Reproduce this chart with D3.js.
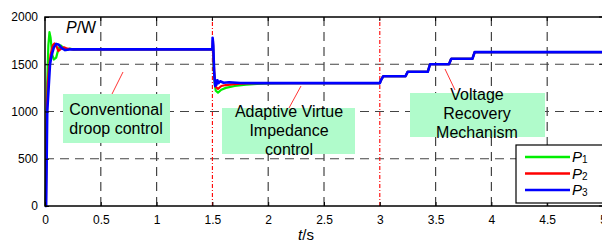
<!DOCTYPE html>
<html>
<head>
<meta charset="utf-8">
<style>
  body { margin: 0; background: #fff; }
  svg { display: block; font-family: "Liberation Sans", Arial, sans-serif; }
</style>
</head>
<body>
<svg width="602" height="243"></svg>
<script src="https://d3js.org/d3.v7.min.js"></script>
<script>
// t (s), P (W)
var p1 = [[0,0],[0.006,0],[0.012,600],[0.02,1300],[0.03,1700],[0.04,1840],[0.05,1780],[0.065,1600],[0.08,1550],[0.1,1570],
  [0.12,1660],[0.14,1700],[0.16,1680],[0.19,1650],[0.22,1665],[0.26,1655],[0.3,1657],[1.5,1657],[1.505,1700],[1.51,1500],
  [1.52,1300],[1.53,1220],[1.55,1200],[1.58,1230],[1.62,1250],[1.7,1270],[1.8,1285],[1.9,1293],[2.0,1298],[2.2,1300],
  [3.0,1300],[3.01,1330],[3.03,1373],[3.23,1373],[3.25,1420],[3.43,1420],[3.45,1500],[3.62,1500],[3.64,1558],[3.83,1558],
  [3.85,1628],[5,1628]];
var p2 = [[0,0],[0.008,0],[0.015,900],[0.025,1300],[0.035,1450],[0.05,1600],[0.07,1700],[0.085,1720],[0.1,1700],[0.12,1640],
  [0.14,1660],[0.17,1680],[0.2,1665],[0.25,1657],[1.5,1657],[1.505,1750],[1.51,1550],[1.52,1350],[1.53,1260],[1.55,1240],
  [1.58,1270],[1.62,1280],[1.7,1290],[1.8,1297],[1.9,1300],[3.0,1300],[3.01,1330],[3.03,1373],[3.23,1373],[3.25,1420],
  [3.43,1420],[3.45,1500],[3.62,1500],[3.64,1558],[3.83,1558],[3.85,1628],[5,1628]];
var p3 = [[0,0],[0.01,0],[0.015,500],[0.02,1000],[0.03,1200],[0.045,1500],[0.06,1600],[0.08,1680],[0.1,1715],[0.12,1710],
  [0.15,1670],[0.18,1650],[0.22,1657],[1.5,1657],[1.502,1780],[1.508,1700],[1.512,1550],[1.516,1420],[1.52,1350],[1.525,1270],
  [1.53,1330],[1.535,1280],[1.545,1330],[1.555,1300],[1.57,1320],[1.6,1305],[1.65,1310],[1.75,1302],[1.9,1300],[3.0,1300],
  [3.01,1330],[3.03,1373],[3.23,1373],[3.25,1420],[3.43,1420],[3.45,1500],[3.62,1500],[3.64,1558],[3.83,1558],[3.85,1628],[5,1628]];

var xTicks = [0, 0.5, 1, 1.5, 2, 2.5, 3, 3.5, 4, 4.5, 5];
var yTicks = [0, 500, 1000, 1500, 2000];
var stageLines = [1.5, 3];
var seriesNames = ["P1", "P2", "P3"];
var seriesColors = ["#00ee00", "#ff0000", "#0000ff"];

var svg = d3.select("svg");

var x = d3.scaleLinear().domain([0, 5]).range([45, 603]);
var y = d3.scaleLinear().domain([0, 2000]).range([206, 17]);

// grid
svg.append("g").selectAll("line")
  .data(xTicks.filter(function(d) { return d > 0 && d < 5 && stageLines.indexOf(d) < 0; }))
  .enter().append("line")
    .attr("x1", function(d) { return x(d); }).attr("x2", function(d) { return x(d); })
    .attr("y1", y(0)).attr("y2", y(2000))
    .attr("stroke", "#444").attr("stroke-width", 1.2).attr("stroke-dasharray", "9,6");
svg.append("g").selectAll("line")
  .data(yTicks.filter(function(d) { return d > 0 && d < 2000; }))
  .enter().append("line")
    .attr("x1", x(0)).attr("x2", x(5))
    .attr("y1", function(d) { return y(d); }).attr("y2", function(d) { return y(d); })
    .attr("stroke", "#444").attr("stroke-width", 1.2).attr("stroke-dasharray", "9,6");

// red dash-dot stage lines
svg.append("g").selectAll("line")
  .data(stageLines)
  .enter().append("line")
    .attr("x1", function(d) { return x(d); }).attr("x2", function(d) { return x(d); })
    .attr("y1", y(0)).attr("y2", y(2000))
    .attr("stroke", "#ff0000").attr("stroke-width", 1.1).attr("stroke-dasharray", "4,2,1,2");

// annotation boxes
var boxes = [
  {x0: 63, y0: 94, x1: 170, y1: 143, cx: 116, lines: ["Conventional", "droop control"], base: 115},
  {x0: 222, y0: 108, x1: 355, y1: 154, cx: 289, lines: ["Adaptive Virtue", "Impedance", "control"], base: 117},
  {x0: 410, y0: 93, x1: 545, y1: 137, cx: 477, lines: ["Voltage", "Recovery", "Mechanism"], base: 100}
];
boxes.forEach(function(b) {
  svg.append("rect").attr("x", b.x0).attr("y", b.y0)
    .attr("width", b.x1 - b.x0).attr("height", b.y1 - b.y0)
    .attr("fill", "#b0fbcb");
});

// curves
var line = d3.line().x(function(d) { return x(d[0]); }).y(function(d) { return y(d[1]); });
[p1, p2, p3].forEach(function(s, i) {
  svg.append("path").datum(s)
    .attr("fill", "none")
    .attr("stroke", seriesColors[i])
    .attr("stroke-width", i == 2 ? 2.6 : 2.2)
    .attr("stroke-linejoin", "round")
    .attr("d", line);
});

// leader lines
var leaders = [[112, 94, 123, 72], [289, 108, 301, 86], [445, 69, 455, 90]];
svg.append("g").selectAll("line").data(leaders).enter().append("line")
  .attr("x1", function(d) { return d[0]; }).attr("y1", function(d) { return d[1]; })
  .attr("x2", function(d) { return d[2]; }).attr("y2", function(d) { return d[3]; })
  .attr("stroke", "#ff0000").attr("stroke-width", 0.8);

// box texts
boxes.forEach(function(b) {
  b.lines.forEach(function(t, k) {
    svg.append("text").attr("x", b.cx).attr("y", b.base + k * 19)
      .attr("text-anchor", "middle").attr("font-size", 16).attr("fill", "#000")
      .text(t);
  });
});

// axes box
svg.append("rect").attr("x", x(0)).attr("y", y(2000))
  .attr("width", x(5) - x(0)).attr("height", y(0) - y(2000))
  .attr("fill", "none").attr("stroke", "#000").attr("stroke-width", 1.5);

var xAxis = d3.axisBottom(x).tickValues(xTicks).tickSizeInner(-4).tickSizeOuter(0).tickPadding(9)
  .tickFormat(function(d) { return d; });
var gx = svg.append("g").attr("transform", "translate(0," + y(0) + ")").call(xAxis);
var yAxis = d3.axisLeft(y).tickValues(yTicks).tickSizeInner(-4).tickSizeOuter(0).tickPadding(7)
  .tickFormat(function(d) { return d; });
var gy = svg.append("g").attr("transform", "translate(" + x(0) + ",0)").call(yAxis);
[gx, gy].forEach(function(g) {
  g.select(".domain").remove();
  g.selectAll("line").attr("stroke", "#000");
  g.selectAll("text").attr("font-size", 12).attr("fill", "#000")
    .attr("font-family", "'Liberation Sans', Arial, sans-serif");
});
// mirrored ticks top / right
svg.append("g").selectAll("line").data(xTicks).enter().append("line")
  .attr("x1", function(d) { return x(d); }).attr("x2", function(d) { return x(d); })
  .attr("y1", y(2000)).attr("y2", y(2000) + 4).attr("stroke", "#000");
svg.append("g").selectAll("line").data(yTicks).enter().append("line")
  .attr("x1", x(5)).attr("x2", x(5) - 4)
  .attr("y1", function(d) { return y(d); }).attr("y2", function(d) { return y(d); }).attr("stroke", "#000");

// axis titles
var pw = svg.append("text").attr("x", 66).attr("y", 33).attr("font-size", 16);
pw.append("tspan").attr("font-style", "italic").text("P");
pw.append("tspan").text("/W");
var ts = svg.append("text").attr("x", 306).attr("y", 240).attr("font-size", 15).attr("text-anchor", "middle");
ts.append("tspan").attr("font-style", "italic").text("t");
ts.append("tspan").text("/s");

// legend
var lg = svg.append("g");
lg.append("rect").attr("x", 516).attr("y", 145).attr("width", 88).attr("height", 58)
  .attr("fill", "#fff").attr("stroke", "#000").attr("stroke-width", 1.2);
seriesNames.forEach(function(n, i) {
  var ly = 157 + i * 16.5;
  lg.append("line").attr("x1", 525).attr("x2", 570).attr("y1", ly).attr("y2", ly)
    .attr("stroke", seriesColors[i]).attr("stroke-width", 2.4);
  var t = lg.append("text").attr("x", 572).attr("y", ly + 5).attr("font-size", 15);
  t.append("tspan").attr("font-style", "italic").text(n[0]);
  t.append("tspan").attr("font-size", 10).attr("dy", 1).text(n[1]);
});
</script>
</body>
</html>
